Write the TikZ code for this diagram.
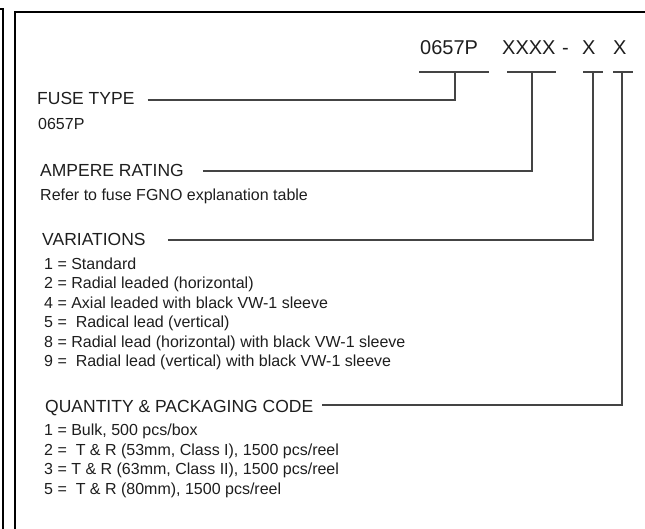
\documentclass[tikz,border=0pt]{standalone}
\usepackage{fontspec}
\setmainfont{Liberation Sans}
\definecolor{txt}{HTML}{1E1E1E}
\definecolor{ln}{HTML}{444444}
\tikzset{
  hdr/.style={font=\fontsize{17.5}{20}\selectfont, text=txt, inner sep=0pt, anchor=base west},
  sub/.style={font=\fontsize{16}{19}\selectfont, text=txt, inner sep=0pt, anchor=base west},
  ttl/.style={font=\fontsize{20}{24}\selectfont, text=txt, inner sep=0pt, anchor=base west},
  conn/.style={draw=ln, line width=1.4pt},
  frame/.style={draw=black, line width=1.8pt},
}
\begin{document}
\begin{tikzpicture}[x=1pt,y=-1pt]
\useasboundingbox (0,0) rectangle (645,529);
\clip (0,0) rectangle (645,529);
% frames
\draw[frame] (-10,9) -- (3,9) -- (3,540);
\draw[frame] (15,545) -- (15,12) -- (660,12);
% title
\node[ttl] (t1) at (420,54.5) {0657P};
\node[ttl] (t2) at (502,54.5) {XXXX};
\node[ttl] (t3) at (562,54.5) {-};
\node[ttl] (t4) at (582,54.5) {X};
\node[ttl] (t5) at (613,54.5) {X};
% underlines
\coordinate (u1a) at (419,72); \coordinate (u1b) at (489,72); \coordinate (u1) at (455,72);
\coordinate (u2a) at (507,72); \coordinate (u2b) at (556,72); \coordinate (u2) at (532,72);
\coordinate (u3a) at (583,72); \coordinate (u3b) at (603,72); \coordinate (u3) at (593,72);
\coordinate (u4a) at (613,72); \coordinate (u4b) at (633,72); \coordinate (u4) at (622,72);
\draw[conn] (u1a) -- (u1b);
\draw[conn] (u2a) -- (u2b);
\draw[conn] (u3a) -- (u3b);
\draw[conn] (u4a) -- (u4b);
% headers
\node[hdr] (h1) at (37,105) {FUSE TYPE};
\node[hdr] (h2) at (40,177) {AMPERE RATING};
\node[hdr] (h3) at (42,246) {VARIATIONS};
\node[hdr] (h4) at (45,412) {QUANTITY \& PACKAGING CODE};
\coordinate (y1) at (0,100);
\coordinate (y2) at (0,171);
\coordinate (y3) at (0,240);
\coordinate (y4) at (0,405);
\draw[conn] ([xshift=13pt]h1.east |- y1) -| (u1);
\draw[conn] ([xshift=19pt]h2.east |- y2) -| (u2);
\draw[conn] ([xshift=22pt]h3.east |- y3) -| (u3);
\draw[conn] ([xshift=9pt]h4.east |- y4) -| (u4);
% sub texts
\node[sub] (s1) at (38,129.5) {0657P};
\node[sub] (s2) at (40,201) {Refer to fuse FGNO explanation table};
\node[sub] (v1) at (44,269.5) {1 = Standard};
\node[sub] (v2) at (44,288.9) {2 = Radial leaded (horizontal)};
\node[sub] (v3) at (44,308.3) {4 = Axial leaded with black VW-1 sleeve};
\node[sub] (v4) at (44,327.7) {5 =~ Radical lead (vertical)};
\node[sub] (v5) at (44,347.1) {8 = Radial lead (horizontal) with black VW-1 sleeve};
\node[sub] (v6) at (44,366.5) {9 =~ Radial lead (vertical) with black VW-1 sleeve};
\node[sub] (q1) at (44,435.5) {1 = Bulk, 500 pcs/box};
\node[sub] (q2) at (44,455.2) {2 =~ T \& R (53mm, Class I), 1500 pcs/reel};
\node[sub] (q3) at (44,474.9) {3 = T \& R (63mm, Class II), 1500 pcs/reel};
\node[sub] (q4) at (44,494.6) {5 =~ T \& R (80mm), 1500 pcs/reel};
\end{tikzpicture}
\end{document}
